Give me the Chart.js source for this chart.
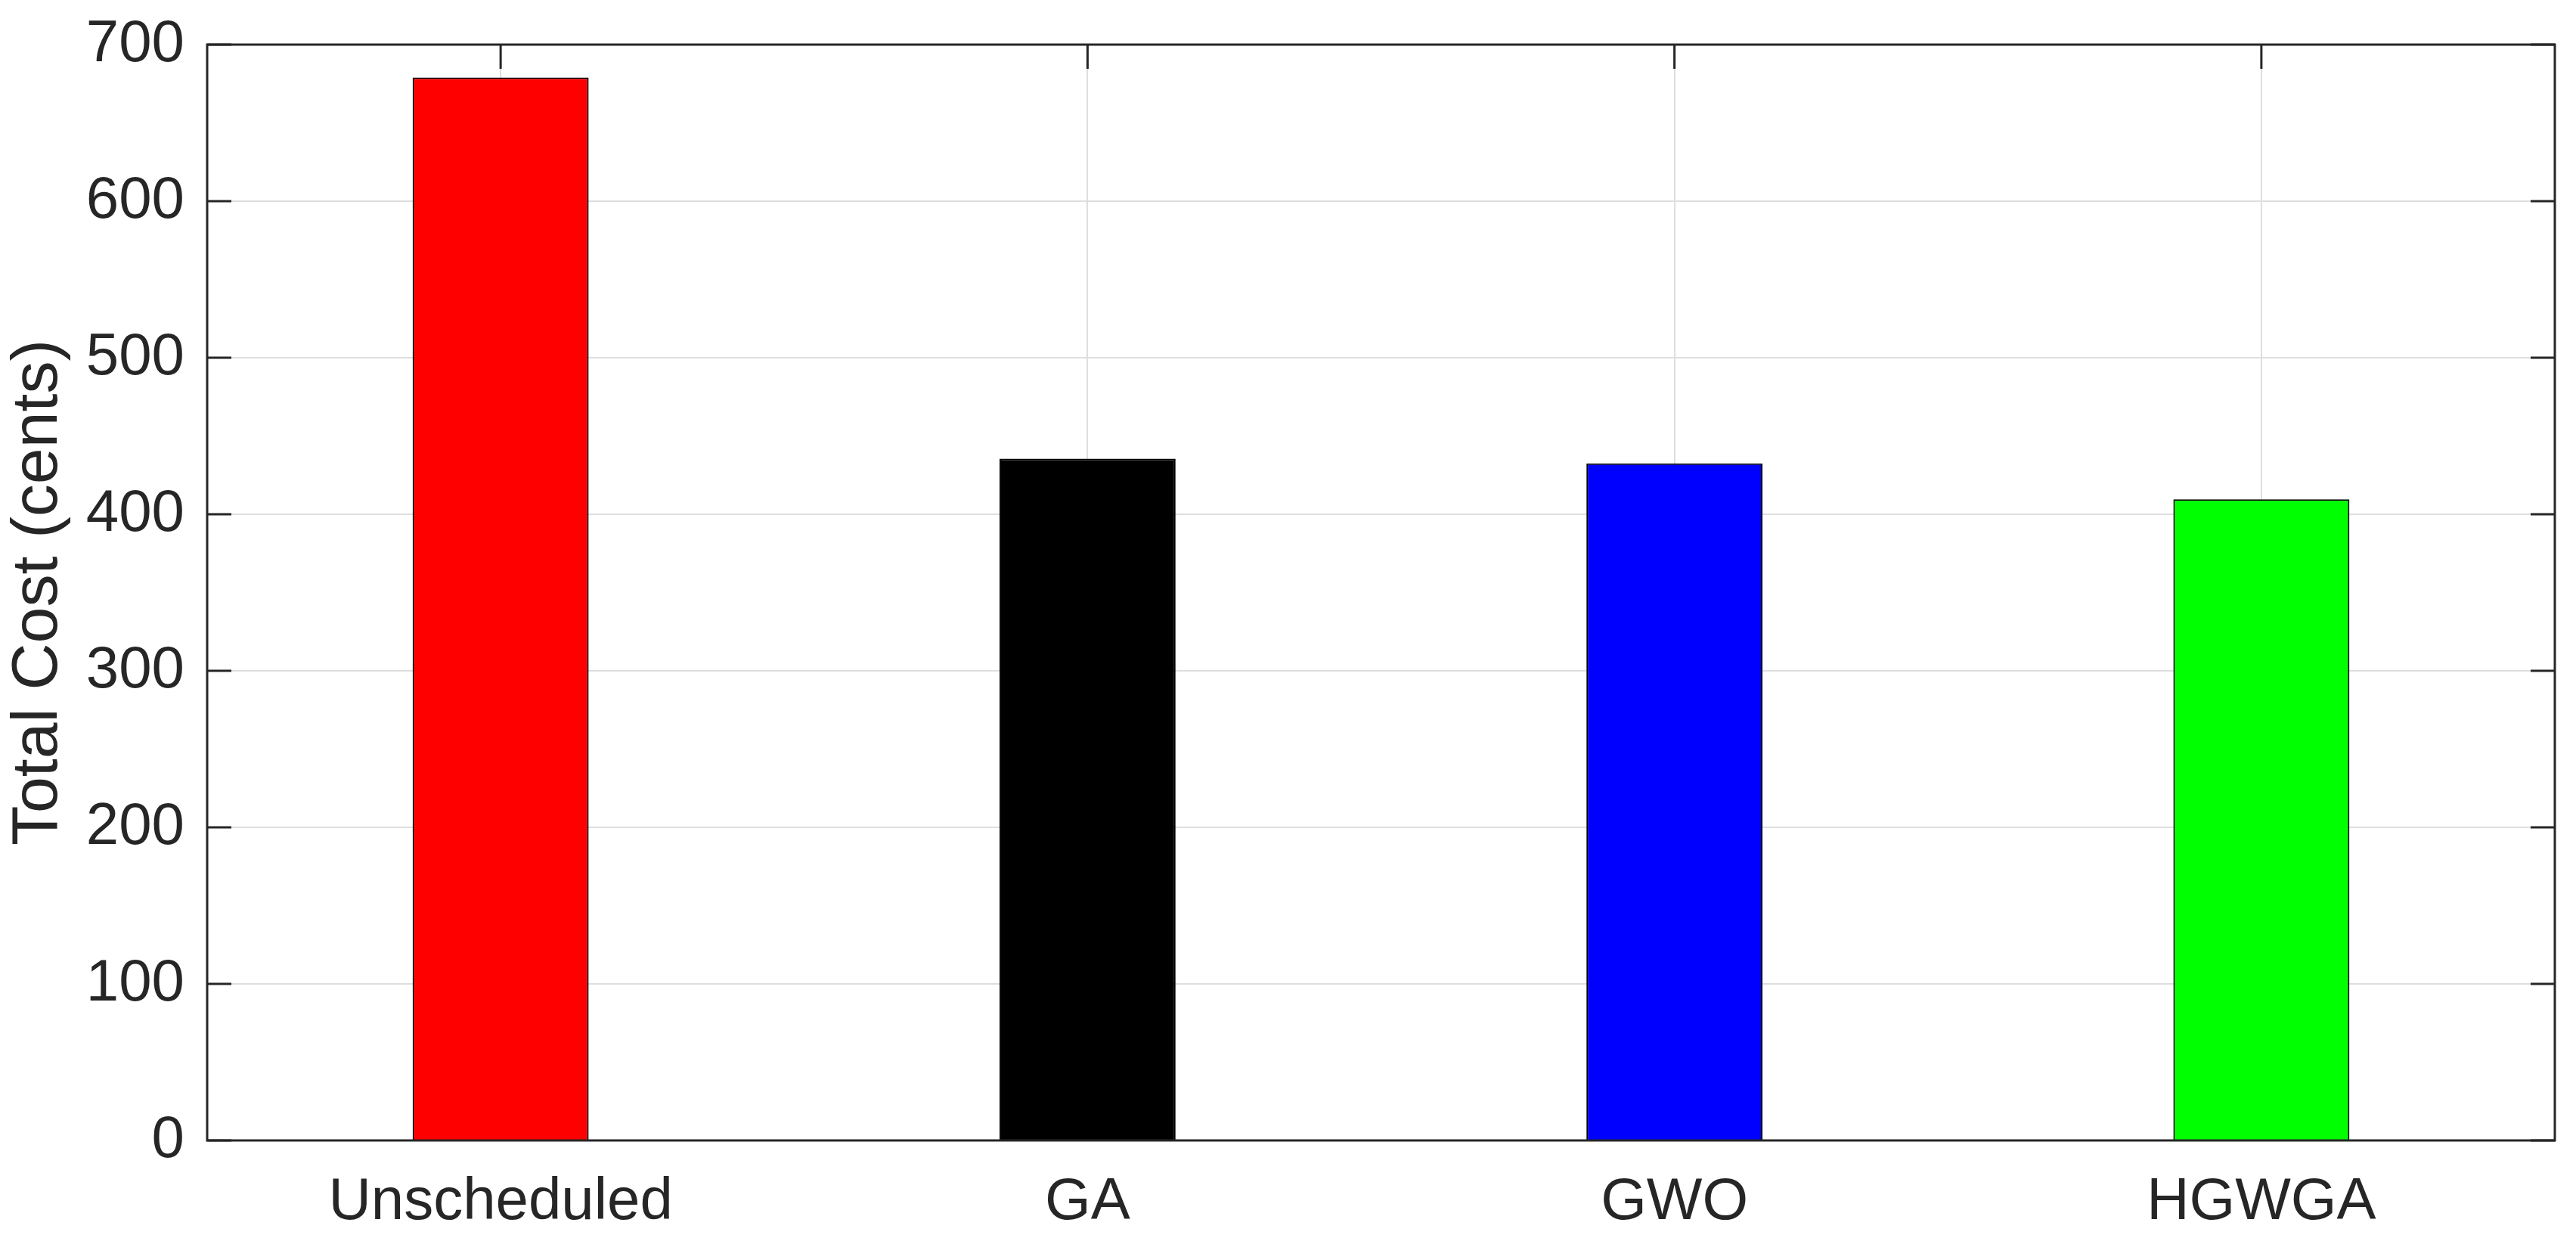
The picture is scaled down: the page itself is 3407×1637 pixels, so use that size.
<!DOCTYPE html>
<html lang="en">
<head>
    <meta charset="UTF-8">
    <title>Total Cost</title>
    <style>
        body { margin: 0; background: #fff; }
    </style>
</head>
<body>
    <canvas id="myChart" width="3407" height="1637"></canvas>

    <script src="https://cdn.jsdelivr.net/npm/chart.js"></script>
    <script>
    // data
    const categories = ['Unscheduled', 'GA', 'GWO', 'HGWGA'];
    const totalCost = [679, 435.5, 432.5, 409.5];
    const barColors = ['#ff0000', '#000000', '#0000ff', '#00ff00'];
    const yTicks = [0, 100, 200, 300, 400, 500, 600, 700];

    const axisColor = '#262626';
    const fontFamily = "'Liberation Sans', Arial, sans-serif";

    // matlab style box with ticks pointing inward
    const boxPlugin = {
        id: 'box',
        beforeDatasetsDraw(chart) {
            const c = chart.ctx, a = chart.chartArea;
            const x = chart.scales.x, y = chart.scales.y;
            const len = 32;
            c.save();
            c.strokeStyle = axisColor;
            c.lineWidth = 3;
            c.beginPath();
            y.ticks.forEach((t, i) => {
                const py = y.getPixelForTick(i);
                c.moveTo(a.left, py); c.lineTo(a.left + len, py);
                c.moveTo(a.right, py); c.lineTo(a.right - len, py);
            });
            x.ticks.forEach((t, i) => {
                const px = x.getPixelForTick(i);
                c.moveTo(px, a.top); c.lineTo(px, a.top + len);
                c.moveTo(px, a.bottom); c.lineTo(px, a.bottom - len);
            });
            c.stroke();
            c.restore();
        },
        afterDatasetsDraw(chart) {
            const c = chart.ctx, a = chart.chartArea;
            c.save();
            c.strokeStyle = axisColor;
            c.lineWidth = 3;
            c.strokeRect(a.left, a.top, a.right - a.left, a.bottom - a.top);
            c.restore();
        }
    };

    const ctx = document.getElementById('myChart');
    new Chart(ctx, {
        type: 'bar',
        data: {
            labels: categories,
            datasets: [{
                data: totalCost,
                backgroundColor: barColors,
                borderColor: '#000000',
                borderWidth: 2,
                barPercentage: 0.3,
                categoryPercentage: 1.0
            }]
        },
        options: {
            responsive: false,
            animation: false,
            layout: { padding: { top: 59, right: 28, left: 0, bottom: 0 } },
            plugins: {
                legend: { display: false },
                tooltip: { enabled: false }
            },
            scales: {
                x: {
                    grid: { offset: false, color: '#dedede', lineWidth: 2, drawTicks: false },
                    border: { display: false },
                    ticks: {
                        color: axisColor,
                        padding: 36,
                        font: { family: fontFamily, size: 78 }
                    },
                    afterFit(scale) {
                        scale.height = 129;
                        scale.paddingLeft = 0;
                        scale.paddingRight = 0;
                    }
                },
                y: {
                    min: 0,
                    max: 700,
                    afterBuildTicks(scale) { scale.ticks = yTicks.map(v => ({ value: v })); },
                    grid: { color: '#dedede', lineWidth: 2, drawTicks: false },
                    border: { display: false },
                    ticks: {
                        color: axisColor,
                        padding: 30,
                        font: { family: fontFamily, size: 78 }
                    },
                    title: {
                        display: true,
                        text: 'Total Cost (cents)',
                        color: axisColor,
                        padding: { top: 0, bottom: 0 },
                        font: { family: fontFamily, size: 86 }
                    },
                    afterFit(scale) {
                        scale.width = 274;
                        scale.paddingTop = 0;
                        scale.paddingBottom = 0;
                    }
                }
            }
        },
        plugins: [boxPlugin]
    });
    </script>
</body>
</html>
